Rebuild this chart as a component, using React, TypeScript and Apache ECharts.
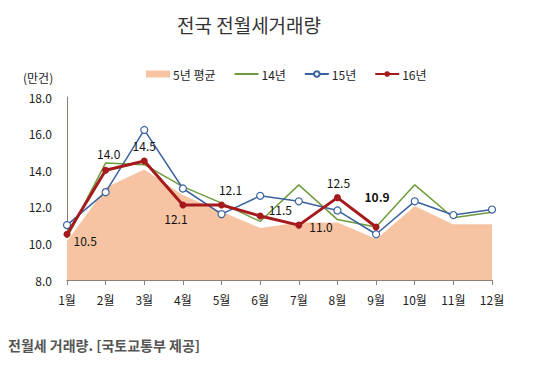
import React, { useEffect, useRef } from "react";
import * as echarts from "echarts";

const months = ["1월", "2월", "3월", "4월", "5월", "6월", "7월", "8월", "9월", "10월", "11월", "12월"];
const avg5 = [10.2, 13.1, 14.1, 12.7, 11.8, 10.9, 11.2, 11.2, 10.3, 12.1, 11.1, 11.1];
const y14 = [10.3, 14.4, 14.3, 13.1, 12.2, 11.2, 13.2, 11.3, 10.9, 13.2, 11.4, 11.7];
const y15 = [11.0, 12.8, 16.2, 13.0, 11.6, 12.6, 12.3, 11.8, 10.5, 12.3, 11.55, 11.85];
const y16 = [10.5, 14.0, 14.5, 12.1, 12.1, 11.5, 11.0, 12.5, 10.9];
const yTicks = { min: 8, max: 18, interval: 2 };

const FONT = '"Noto Sans CJK KR", "Noto Sans", sans-serif';

const labelCfg: any[] = [
  { position: "right", offset: [-2, 6] },
  { position: "top", offset: [3, -2] },
  { position: "top", offset: [0, -1] },
  { position: "bottom", offset: [-7, -1] },
  { position: "top", offset: [9, -1] },
  { position: "right", offset: [0, -6] },
  { position: "right", offset: [2, 1] },
  { position: "top", offset: [1, -1] },
  { position: "top", offset: [1, -16], fontWeight: "bold" },
];

export default function App() {
  const ref = useRef<HTMLDivElement>(null);
  useEffect(() => {
    if (!ref.current) return;
    const chart = echarts.init(ref.current, undefined, { renderer: "svg" });
    chart.setOption({
      animation: false,
      backgroundColor: "#ffffff",
      textStyle: { fontFamily: FONT },
      graphic: [
        {
          type: "text",
          x: 249,
          y: 24,
          style: {
            text: "전국 전월세거래량",
            font: `19px ${FONT}`,
            fill: "#333",
            textAlign: "center",
            textVerticalAlign: "middle",
          },
        },
        {
          type: "text",
          x: 23,
          y: 77,
          style: {
            text: "(만건)",
            font: `12px ${FONT}`,
            fill: "#222",
            textVerticalAlign: "middle",
          },
        },
        {
          type: "text",
          x: 8,
          y: 345,
          style: {
            text: "전월세 거래량. [국토교통부 제공]",
            font: `bold 14px ${FONT}`,
            fill: "#555",
            textVerticalAlign: "middle",
          },
        },
      ],
      legend: {
        top: 63,
        left: 141,
        itemWidth: 24,
        itemHeight: 7,
        itemGap: 18,
        textStyle: { fontSize: 12, color: "#222", fontFamily: FONT, padding: [0, 0, 0, -2] },
        data: [
          { name: "5년 평균", icon: "rect" },
          { name: "14년", itemStyle: { opacity: 0 } },
          { name: "15년" },
          { name: "16년" },
        ],
      },
      grid: { left: 67, right: 52, top: 97, bottom: 85 },
      xAxis: {
        type: "category",
        data: months,
        boundaryGap: false,
        axisLine: { lineStyle: { color: "#8c7f78", width: 1 } },
        axisTick: { show: true, alignWithLabel: true, length: 5, lineStyle: { color: "#8c7f78" } },
        axisLabel: { color: "#222", fontSize: 12, margin: 13, fontFamily: FONT },
      },
      yAxis: {
        type: "value",
        min: yTicks.min,
        max: yTicks.max,
        interval: yTicks.interval,
        axisLine: { show: true, lineStyle: { color: "#8c7f78" } },
        axisTick: { show: false },
        splitLine: { show: false },
        axisLabel: {
          color: "#222",
          fontSize: 12,
          margin: 15,
          formatter: (v: number) => v.toFixed(1),
          fontFamily: FONT,
        },
      },
      series: [
        {
          name: "5년 평균",
          type: "line",
          data: avg5,
          symbol: "none",
          itemStyle: { color: "#f6c4a2" },
          lineStyle: { color: "#ffffff", width: 2 },
          areaStyle: { color: "#f6c4a2", opacity: 1 },
          z: 1,
        },
        {
          name: "14년",
          type: "line",
          data: y14,
          symbol: "none",
          itemStyle: { color: "#6f9b3a" },
          lineStyle: { color: "#6f9b3a", width: 1.5 },
          z: 2,
        },
        {
          name: "15년",
          type: "line",
          data: y15,
          symbol: "circle",
          symbolSize: 7,
          itemStyle: { color: "#ffffff", borderColor: "#3b62a0", borderWidth: 1.2 },
          lineStyle: { color: "#3b62a0", width: 1.5 },
          z: 3,
        },
        {
          name: "16년",
          type: "line",
          data: y16.map((v, i) => ({
            value: v,
            label: {
              show: true,
              position: labelCfg[i].position,
              offset: labelCfg[i].offset,
              fontWeight: labelCfg[i].fontWeight || "normal",
              formatter: (p: any) => Number(p.value).toFixed(1),
            },
          })),
          symbol: "circle",
          symbolSize: 7,
          itemStyle: { color: "#a51a1c" },
          lineStyle: { color: "#a51a1c", width: 3 },
          label: { color: "#111", fontSize: 12, fontFamily: FONT },
          z: 4,
        },
      ],
    });
    return () => chart.dispose();
  }, []);
  return <div ref={ref} style={{ position: "fixed", left: 0, top: 0, width: 544, height: 365 }} />;
}
